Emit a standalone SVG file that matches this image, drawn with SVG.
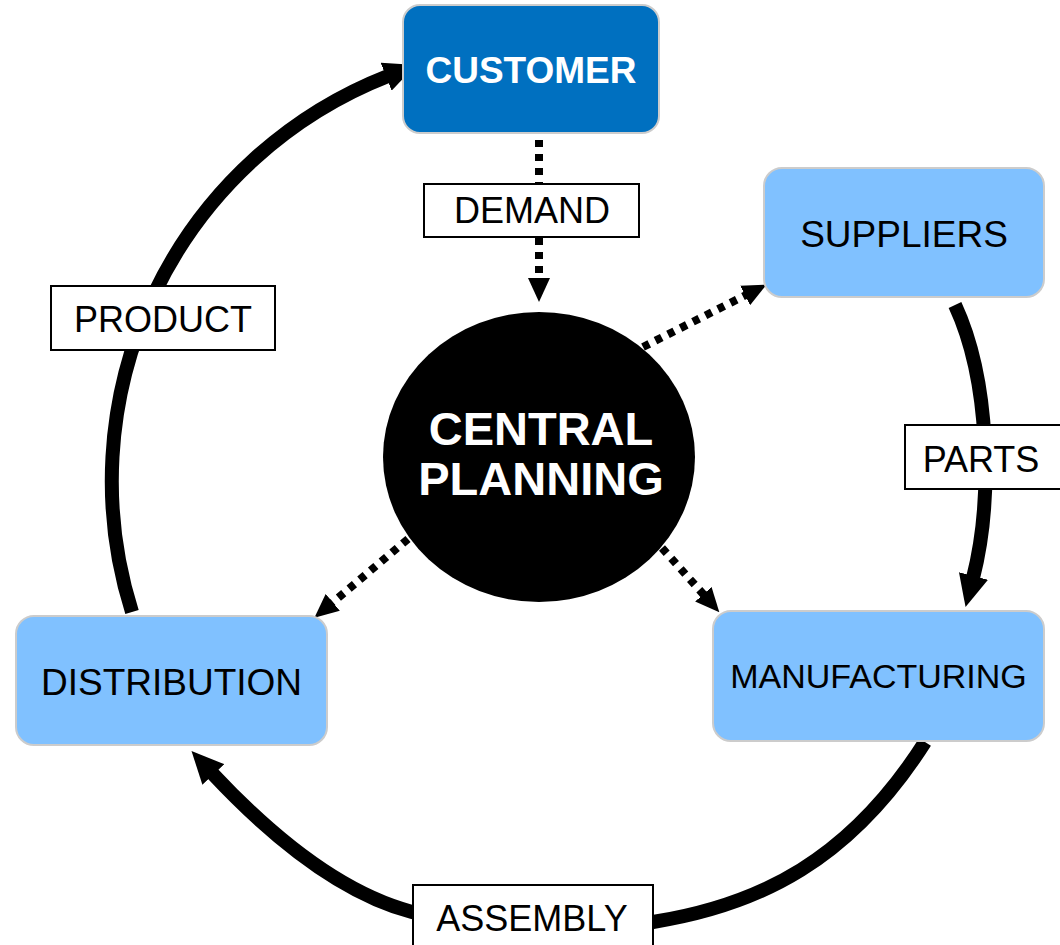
<svg xmlns="http://www.w3.org/2000/svg" width="1060" height="945" viewBox="0 0 1060 945">
<style>
.flow{fill:none;stroke:#000;stroke-width:14;marker-end:url(#bigArrow)}
.dot{fill:none;stroke:#000;stroke-width:8;stroke-dasharray:7 7;marker-end:url(#smallArrow)}
.lbl{fill:#fff;stroke:#000;stroke-width:2}
.lt{font-family:"Liberation Sans",Arial,sans-serif;font-size:36px;fill:#000;text-anchor:middle}
.box{fill:#80C1FF;stroke:#ccc;stroke-width:2}
.nt{font-family:"Liberation Sans",Arial,sans-serif;font-size:37px;fill:#000;text-anchor:middle}
.bt{font-family:"Liberation Sans",Arial,sans-serif;font-weight:bold;fill:#fff;text-anchor:middle}
</style>
<defs>
<marker id="bigArrow" markerUnits="userSpaceOnUse" viewBox="0 0 32 30" markerWidth="32" markerHeight="30" refX="2" refY="15" orient="auto">
<path d="M0,0 L32,15 L0,30 z" fill="#000"/>
</marker>
<marker id="smallArrow" markerUnits="userSpaceOnUse" viewBox="0 0 24 22" markerWidth="24" markerHeight="22" refX="1" refY="11" orient="auto">
<path d="M0,0 L24,11 L0,22 z" fill="#000"/>
</marker>
</defs>
<g id="connectors">
<path class="dot" d="M539 140 L539 279"/>
<path class="dot" d="M643 347 L746 295"/>
<path class="dot" d="M662 548 L704 595"/>
<path class="dot" d="M408 539 L332 603"/>
<path class="flow" d="M132 612 A435 435 0 0 1 388 76"/>
<path class="flow" d="M955 305 C990 380 993 500 973 578"/>
<path class="flow" d="M925 742 C850 860 760 905 653 922 C560 937 480 930 412 912 C340 893 270 835 212 773"/>
<g id="label-demand"><rect class="lbl" x="424" y="184" width="215" height="53"/><text class="lt" x="532" y="223">DEMAND</text></g>
<g id="label-product"><rect class="lbl" x="51" y="286" width="224" height="64"/><text class="lt" x="163" y="332">PRODUCT</text></g>
<g id="label-parts"><rect class="lbl" x="905" y="425" width="160" height="64"/><text class="lt" x="981" y="472">PARTS</text></g>
<g id="label-assembly"><rect class="lbl" x="413" y="885" width="240" height="66"/><text class="lt" x="532" y="931">ASSEMBLY</text></g>
</g>
<g id="customer"><rect x="403" y="5" width="256" height="128" rx="17" fill="#0070C0" stroke="#ccc" stroke-width="2"/><text class="bt" x="531" y="83" style="font-size:37px">CUSTOMER</text></g>
<g id="suppliers"><rect class="box" x="764" y="168" width="280" height="129" rx="18"/><text class="nt" x="904" y="247">SUPPLIERS</text></g>
<g id="manufacturing"><rect class="box" x="713" y="611" width="331" height="130" rx="18"/><text class="nt" x="878.5" y="688" style="font-size:34px">MANUFACTURING</text></g>
<g id="distribution"><rect class="box" x="16" y="616" width="311" height="129" rx="18"/><text class="nt" x="171.5" y="695">DISTRIBUTION</text></g>
<g id="central-planning"><ellipse cx="539" cy="457" rx="156" ry="145" fill="#000"/><text class="bt" x="541" y="445" style="font-size:47px">CENTRAL</text><text class="bt" x="541" y="495" style="font-size:47px">PLANNING</text></g>
</svg>
